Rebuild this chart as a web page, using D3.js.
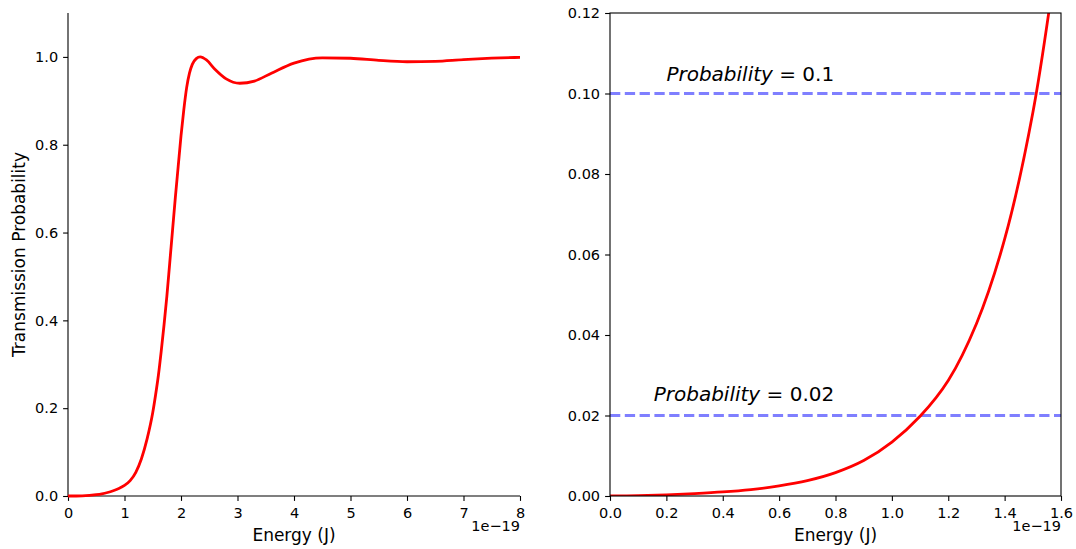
<!DOCTYPE html>
<html>
<head>
<meta charset="utf-8">
<script src="https://cdn.jsdelivr.net/npm/d3@7"></script>
<style>
  body { margin: 0; background: #fff; }
  svg { display: block; font-family: "DejaVu Sans", sans-serif; }
</style>
</head>
<body>
<svg id="chart" width="1076" height="549"></svg>
<script>
// ---- data (energy in units of 1e-19 J) ----
const leftEnergy = [0, 0.25, 0.5, 0.6, 0.7, 0.8, 0.9, 1.0, 1.1, 1.2, 1.3, 1.4, 1.5, 1.55, 1.6, 1.65, 1.7, 1.75, 1.8, 1.85, 1.9, 1.95, 2.0, 2.05, 2.1, 2.15, 2.2, 2.27, 2.34, 2.45, 2.6, 2.8, 3.04, 3.3, 3.6, 4.0, 4.5, 5.0, 5.5, 6.0, 6.5, 7.0, 7.5, 8.0];
const leftProb   = [0, 0.0005, 0.003, 0.005, 0.008, 0.012, 0.017, 0.024, 0.035, 0.054, 0.085, 0.13, 0.19, 0.23, 0.275, 0.33, 0.39, 0.455, 0.53, 0.605, 0.68, 0.75, 0.82, 0.88, 0.93, 0.963, 0.983, 0.996, 1.0, 0.993, 0.972, 0.95, 0.94, 0.945, 0.963, 0.986, 0.998, 0.997, 0.992, 0.989, 0.99, 0.994, 0.997, 0.999];

const rightEnergy = [0, 0.1, 0.2, 0.3, 0.4, 0.5, 0.6, 0.7, 0.8, 0.9, 1.0, 1.1, 1.2, 1.3, 1.4, 1.5, 1.6];
const rightProb   = [0, 0.0001, 0.0003, 0.0006, 0.001, 0.0016, 0.0025, 0.0038, 0.0058, 0.0088, 0.0134, 0.0198, 0.0287, 0.0428, 0.0638, 0.0952, 0.142];

const thresholds = [0.1, 0.02];
const thresholdLabels = ["0.1", "0.02"];
const labelEnergy = [0.2, 0.155];
const labelProb = [0.103, 0.0235];

const leftXTicks = [0, 1, 2, 3, 4, 5, 6, 7, 8];
const leftYTicks = [0.0, 0.2, 0.4, 0.6, 0.8, 1.0];
const rightXTicks = [0.0, 0.2, 0.4, 0.6, 0.8, 1.0, 1.2, 1.4, 1.6];
const rightYTicks = [0.00, 0.02, 0.04, 0.06, 0.08, 0.10, 0.12];

// ---- layout ----
const svg = d3.select("#chart");
const yTop = 13, yBot = 496;
const L = {x0: 68, x1: 520};
const R = {x0: 610, x1: 1061};
const tickFont = "14.5px";
const labelFont = "17px";

function styleAxis(g) {
  g.selectAll(".domain").remove();
  g.selectAll(".tick line").attr("stroke", "#000").attr("stroke-width", 1.1);
  g.selectAll(".tick text").attr("fill", "#000").style("font-size", tickFont).style("font-family", "DejaVu Sans");
}

// ---- left panel ----
const xL = d3.scaleLinear().domain([0, 8]).range([L.x0, L.x1]);
const yL = d3.scaleLinear().domain([0, 1.1]).range([yBot, yTop]);

const gLx = svg.append("g").attr("transform", `translate(0,${yBot})`)
  .call(d3.axisBottom(xL).tickValues(leftXTicks).tickFormat(d3.format("d")).tickSize(4.9).tickPadding(6.5));
styleAxis(gLx);
const gLy = svg.append("g").attr("transform", `translate(${L.x0},0)`)
  .call(d3.axisLeft(yL).tickValues(leftYTicks).tickFormat(d3.format(".1f")).tickSize(4.9).tickPadding(5));
styleAxis(gLy);

svg.append("line").attr("x1", L.x0).attr("x2", L.x0).attr("y1", yTop).attr("y2", yBot).attr("stroke", "#000").attr("stroke-width", 1.1);
svg.append("line").attr("x1", L.x0).attr("x2", L.x1).attr("y1", yBot).attr("y2", yBot).attr("stroke", "#000").attr("stroke-width", 1.1);

const lineL = d3.line().x((d, i) => xL(leftEnergy[i])).y(d => yL(d)).curve(d3.curveMonotoneX);
svg.append("path").datum(leftProb).attr("d", lineL).attr("fill", "none").attr("stroke", "#ff0000").attr("stroke-width", 2.8).attr("stroke-linejoin", "round");

svg.append("text").attr("x", (L.x0 + L.x1) / 2).attr("y", 541).attr("text-anchor", "middle")
  .style("font-size", labelFont).text("Energy (J)");
svg.append("text").attr("x", L.x1).attr("y", 531).attr("text-anchor", "end")
  .style("font-size", tickFont).text("1e\u221219");
svg.append("text").attr("transform", `translate(25,${(yTop + yBot) / 2}) rotate(-90)`).attr("text-anchor", "middle")
  .style("font-size", labelFont).text("Transmission Probability");

// ---- right panel ----
const xR = d3.scaleLinear().domain([0, 1.6]).range([R.x0, R.x1]);
const yR = d3.scaleLinear().domain([0, 0.12]).range([yBot, yTop]);

svg.append("defs").append("clipPath").attr("id", "clipR")
  .append("rect").attr("x", R.x0).attr("y", yTop).attr("width", R.x1 - R.x0).attr("height", yBot - yTop);

const gRx = svg.append("g").attr("transform", `translate(0,${yBot})`)
  .call(d3.axisBottom(xR).tickValues(rightXTicks).tickFormat(d3.format(".1f")).tickSize(4.9).tickPadding(6.5));
styleAxis(gRx);
const gRy = svg.append("g").attr("transform", `translate(${R.x0},0)`)
  .call(d3.axisLeft(yR).tickValues(rightYTicks).tickFormat(d3.format(".2f")).tickSize(4.9).tickPadding(5));
styleAxis(gRy);

const plotR = svg.append("g").attr("clip-path", "url(#clipR)");
plotR.selectAll("line.thr").data(thresholds).enter().append("line")
  .attr("x1", R.x0).attr("x2", R.x1).attr("y1", d => yR(d)).attr("y2", d => yR(d))
  .attr("stroke", "blue").attr("stroke-opacity", 0.5).attr("stroke-width", 2.8).attr("stroke-dasharray", "10.3,4.5");

const lineR = d3.line().x((d, i) => xR(rightEnergy[i])).y(d => yR(d)).curve(d3.curveCatmullRom.alpha(0.5));
plotR.append("path").datum(rightProb).attr("d", lineR).attr("fill", "none").attr("stroke", "#ff0000").attr("stroke-width", 2.8);

svg.append("rect").attr("x", R.x0).attr("y", yTop).attr("width", R.x1 - R.x0).attr("height", yBot - yTop)
  .attr("fill", "none").attr("stroke", "#000").attr("stroke-width", 1.1);

const labs = svg.selectAll("text.prob").data(thresholds).enter().append("text")
  .attr("class", "prob")
  .attr("x", (d, i) => xR(labelEnergy[i])).attr("y", (d, i) => yR(labelProb[i]))
  .style("font-size", "20px");
labs.append("tspan").style("font-style", "italic").text("Probability");
labs.append("tspan").text((d, i) => " = " + thresholdLabels[i]);

svg.append("text").attr("x", (R.x0 + R.x1) / 2).attr("y", 541).attr("text-anchor", "middle")
  .style("font-size", labelFont).text("Energy (J)");
svg.append("text").attr("x", R.x1).attr("y", 531).attr("text-anchor", "end")
  .style("font-size", tickFont).text("1e\u221219");
</script>
</body>
</html>
